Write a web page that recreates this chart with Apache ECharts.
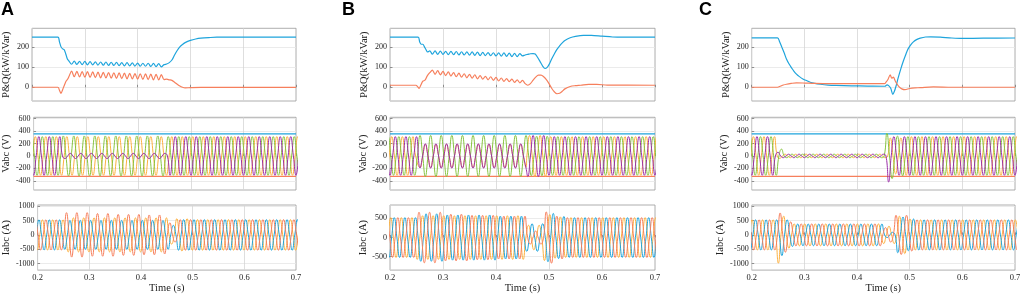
<!DOCTYPE html>
<html>
<head>
<meta charset="utf-8">
<script src="https://cdn.jsdelivr.net/npm/echarts@6/dist/echarts.min.js"></script>
<style>
  html, body { margin: 0; padding: 0; background: #fff; }
  #chart { width: 1024px; height: 295px; }
</style>
</head>
<body>
<div id="chart"></div>
<script>
// ---- data ----
const timeTicks = [0.2, 0.3, 0.4, 0.5, 0.6, 0.7];
const pqTicks = [0, 100, 200];
const vTicks = [-400, -200, 0, 200, 400, 600];
const iTicksAC = [-1000, -500, 0, 500, 1000];
const iTicksB = [-500, 0, 500];
const panelNames = ["A", "B", "C"];

// P and Q, [time, value]
const pA = [[0.2,248],[0.249,248],[0.252,225],[0.255,200],[0.258,190],[0.261,186],[0.264,165],[0.267,140],
  [0.27,130],[0.275,114],[0.28,129],[0.285,113],[0.29,128],[0.295,112],[0.3,128],[0.305,111],[0.31,127],[0.315,111],
  [0.32,126],[0.325,110],[0.33,125],[0.335,109],[0.34,125],[0.345,108],[0.35,124],[0.355,108],[0.36,123],[0.365,107],
  [0.37,122],[0.375,106],[0.38,122],[0.385,106],[0.39,121],[0.395,105],[0.4,120],[0.405,104],[0.41,119],[0.415,104],
  [0.42,119],[0.425,103],[0.43,118],[0.435,102],[0.44,117],[0.445,101],[0.45,112],
  [0.455,115],[0.46,122],[0.465,135],[0.47,160],[0.475,182],[0.48,200],[0.485,212],[0.49,221],[0.5,232],
  [0.51,239],[0.52,243],[0.535,246],[0.55,248],[0.7,248]];
const qA = [[0.2,0],[0.249,0],[0.252,-15],[0.255,-30],[0.258,-12],[0.262,15],[0.265,32],[0.268,42],[0.271,60],
  [0.275,80],[0.28,52],[0.285,79],[0.29,51],[0.295,78],[0.3,50],[0.305,77],[0.31,49],[0.315,76],[0.32,48],
  [0.325,75],[0.33,47],[0.335,74],[0.34,46],[0.345,73],[0.35,45],[0.355,72],[0.36,44],[0.365,71],[0.37,43],
  [0.375,70],[0.38,42],[0.385,69],[0.39,41],[0.395,68],[0.4,40],[0.405,67],[0.41,39],[0.415,66],[0.42,38],
  [0.425,65],[0.43,37],[0.435,64],[0.44,36],[0.445,63],[0.45,38],
  [0.455,40],[0.46,37],[0.465,34],[0.47,25],[0.475,15],[0.48,6],[0.485,0],[0.49,-3],[0.5,-2],[0.52,-1],[0.7,-1]];
const pB = [[0.2,248],[0.253,248],[0.256,225],[0.259,213],[0.262,213],[0.265,200],[0.268,186],[0.271,175],
  [0.275,180],[0.28,164],[0.285,180],[0.29,163],[0.295,179],[0.3,163],[0.305,178],[0.31,162],[0.315,178],[0.32,161],
  [0.325,177],[0.33,160],[0.335,176],[0.34,160],[0.345,175],[0.35,159],[0.355,175],[0.36,158],[0.365,174],[0.37,157],
  [0.375,173],[0.38,157],[0.385,172],[0.39,156],[0.395,171],[0.4,155],[0.405,170],[0.41,154],[0.415,170],[0.42,153],
  [0.425,169],[0.43,152],[0.435,168],[0.44,152],[0.445,167],[0.45,155],
  [0.455,160],[0.46,163],[0.465,166],[0.47,167],[0.474,165],[0.478,150],[0.483,128],[0.488,105],[0.4925,93],
  [0.497,100],[0.5,112],[0.505,140],[0.51,165],[0.515,188],[0.52,205],[0.525,220],[0.53,232],[0.54,245],
  [0.55,252],[0.565,257],[0.58,257],[0.6,253],[0.62,249],[0.64,248],[0.7,248]];
const qB = [[0.2,10],[0.249,10],[0.252,3],[0.255,-5],[0.258,10],[0.262,30],[0.266,35],[0.27,55],[0.275,72],
  [0.28,85],[0.285,64],[0.29,82],[0.295,61],[0.3,79],[0.305,58],[0.31,76],[0.315,55],[0.32,73],[0.325,52],
  [0.33,70],[0.335,50],[0.34,67],[0.345,47],[0.35,64],[0.355,45],[0.36,62],[0.365,42],[0.37,58],[0.375,40],
  [0.38,54],[0.385,37],[0.39,52],[0.395,34],[0.4,49],[0.405,31],[0.41,46],[0.415,29],[0.42,43],[0.425,28],
  [0.43,40],[0.435,24],[0.44,37],[0.445,22],[0.45,34],[0.455,18],
  [0.46,10],[0.465,18],[0.47,35],[0.475,50],[0.48,60],[0.485,60],[0.49,52],[0.495,38],[0.5,18],[0.505,-5],
  [0.51,-22],[0.515,-32],[0.52,-30],[0.525,-20],[0.53,-8],[0.54,4],[0.55,8],[0.56,10],[0.575,14],[0.59,14],
  [0.61,11],[0.7,10]];
const pC = [[0.2,245],[0.249,245],[0.253,225],[0.257,200],[0.262,168],[0.266,140],[0.271,115],[0.276,95],[0.28,80],
  [0.285,65],[0.29,54],[0.298,40],[0.305,32],[0.311,25],[0.32,19],[0.33,15],[0.345,11],[0.36,9],[0.39,7],[0.42,6],
  [0.453,5],[0.457,12],[0.46,8],[0.464,-5],[0.468,-35],[0.471,-20],[0.474,5],[0.478,45],[0.483,90],[0.488,130],
  [0.493,165],[0.497,190],[0.502,210],[0.507,225],[0.513,236],[0.52,243],[0.53,249],[0.54,250],[0.558,248],
  [0.58,244],[0.6,242],[0.64,243],[0.7,244]];
const qC = [[0.2,0],[0.249,0],[0.255,6],[0.26,11],[0.266,15],[0.275,19],[0.285,22],[0.3,21],[0.32,19],[0.35,18],
  [0.452,18],[0.455,25],[0.459,40],[0.463,62],[0.466,45],[0.469,50],[0.472,35],[0.475,20],[0.48,2],[0.485,-8],
  [0.491,-12],[0.5,-6],[0.51,-3],[0.52,-2],[0.545,2],[0.58,0],[0.7,0]];

// voltage limit lines
const vLimHigh = 355;
const vLimLow = -328;

// 50 Hz phase waveforms: [start time, peak amplitude, phase deg (kept if omitted)]
const vPurA = [[0.2,311,-90],[0.251,42],[0.456,311]];
const vYelA = [[0.2,311,30]];
const vGrnA = [[0.2,311,150],[0.251,322],[0.456,311]];
const vPurB = [[0.2,311,-90],[0.252,195,-30],[0.457,330,-90],[0.5,311]];
const vYelB = [[0.2,311,30],[0.252,185,-30],[0.457,330,30],[0.5,311]];
const vGrnB = [[0.2,311,150],[0.252,330],[0.457,318],[0.5,311]];
const vPurC = [[0.2,311,-90],[0.25,60],[0.256,28],[0.455,330],[0.458,420],[0.465,311]];
const vYelC = [[0.2,311,30],[0.25,40],[0.256,28],[0.455,290],[0.49,311]];
const vGrnC = [[0.2,311,150],[0.25,110],[0.257,28],[0.455,365],[0.468,320],[0.49,311]];

const iOrgA = [[0.2,520,162],[0.25,770],[0.3,740],[0.35,710],[0.4,690],[0.44,660],[0.455,420],[0.463,250],[0.47,530]];
const iBluA = [[0.2,520,42],[0.25,500],[0.455,330],[0.466,530]];
const iYelA = [[0.2,520,-78],[0.25,590],[0.455,320],[0.466,560],[0.49,530]];
const iOrgB = [[0.2,520,-175],[0.25,660],[0.3,610],[0.35,580],[0.4,560],[0.455,170],[0.49,670],[0.51,560],[0.53,520]];
const iBluB = [[0.2,520,-55],[0.25,620],[0.3,590],[0.4,560],[0.455,360],[0.49,630],[0.51,550],[0.53,520]];
const iYelB = [[0.2,520,65],[0.25,570],[0.455,320],[0.49,600],[0.51,540],[0.53,520]];
const iOrgC = [[0.2,520,-162],[0.25,760],[0.262,600],[0.272,450],[0.282,380],[0.45,250],[0.472,680],[0.495,560],[0.51,520]];
const iBluC = [[0.2,520,-42],[0.25,720],[0.265,520],[0.276,400],[0.286,375],[0.45,90],[0.472,620],[0.495,550],[0.51,520]];
const iYelC = [[0.2,520,78],[0.245,980],[0.256,650],[0.27,460],[0.28,380],[0.45,300],[0.472,650],[0.495,550],[0.51,520]];

// ---- colours / layout ----
const cBlue = "#1ea4dc", cOrange = "#f67f5c", cYellow = "#fbb040", cGreen = "#86c440", cPurple = "#9b2fa8";
const serif = "Liberation Serif";
const cols = [{ left: 30, width: 266 }, { left: 390, width: 265 }, { left: 751.7, width: 263.3 }];
const rows = [{ top: 28.3, height: 72.7 }, { top: 117.3, height: 72.7 }, { top: 205, height: 68.3 }];

// peaks and zero crossings of each half cycle, the library smooths between them
function wave(segs) {
  const pts = [];
  let ph = 0;
  for (let i = 0; i < segs.length; i++) {
    const amp = segs[i][1];
    if (segs[i][2] !== undefined) ph = segs[i][2];
    const start = i === 0 ? 0.19 : segs[i][0];
    const end = i + 1 < segs.length ? segs[i + 1][0] : 0.71;
    for (let k = Math.ceil((start * 18000 + ph) / 90); ; k++) {
      const t = (90 * k - ph) / 18000;
      if (t >= end) break;
      pts.push([t, amp * [0, 1, 0, -1][((k % 4) + 4) % 4]]);
    }
  }
  return pts;
}

const grids = [], xAxes = [], yAxes = [], series = [];

function addPanel(c, r, yMin, yMax, ticks, name) {
  const gi = grids.length;
  grids.push({ left: cols[c].left, width: cols[c].width, top: rows[r].top, height: rows[r].height,
    show: true, borderColor: "#9a9a9a", borderWidth: 0.8, backgroundColor: "transparent" });
  xAxes.push({
    gridIndex: gi, type: "value", min: 0.2, max: 0.7, interval: 0.1,
    axisLine: { show: false },
    axisTick: { show: true, inside: true, length: 2.5, lineStyle: { color: "#777", width: 0.8 } },
    splitLine: { show: true, lineStyle: { color: "#d6d6d6", width: 0.8 } },
    axisLabel: { show: r === 2, margin: 3, fontSize: 8.5, color: "#222", fontFamily: serif,
      formatter: v => timeTicks.find(t => Math.abs(t - v) < 1e-6).toFixed(1) },
    name: r === 2 ? "Time (s)" : "", nameLocation: "middle", nameGap: 8,
    nameTextStyle: { fontSize: 10.5, color: "#222", fontFamily: serif, verticalAlign: "top" }
  });
  yAxes.push({
    gridIndex: gi, type: "value", min: yMin, max: yMax,
    axisLine: { show: false },
    axisTick: { show: true, inside: true, length: 2.5, customValues: ticks, lineStyle: { color: "#777", width: 0.8 } },
    splitLine: { show: true, lineStyle: { color: "#e6e6e6", width: 0.8 } },
    axisLabel: { margin: 3, fontSize: 8, color: "#222", fontFamily: serif, customValues: ticks,
      formatter: v => String(Math.round(v)) },
    name: name, nameLocation: "middle", nameGap: 20, nameRotate: 90,
    nameTextStyle: { fontSize: 10.5, color: "#222", fontFamily: serif }
  });
  return gi;
}

function line(gi, data, color, smooth, width) {
  series.push({ type: "line", xAxisIndex: gi, yAxisIndex: gi, data: data, symbol: "none",
    smooth: smooth, silent: true, lineStyle: { color: color, width: width || 1 } });
}

const pq = [[pA, qA], [pB, qB], [pC, qC]];
const volts = [[vYelA, vGrnA, vPurA], [vYelB, vGrnB, vPurB], [vYelC, vGrnC, vPurC]];
const amps = [[iYelA, iBluA, iOrgA], [iYelB, iBluB, iOrgB], [iYelC, iBluC, iOrgC]];

for (let c = 0; c < 3; c++) {
  let g = addPanel(c, 0, -68, 292, pqTicks, "P&Q(kW/kVar)");
  line(g, pq[c][0], cBlue, 0.3, 1.2);
  line(g, pq[c][1], cOrange, 0.3, 1.2);

  g = addPanel(c, 1, -548, 622, vTicks, "Vabc (V)");
  line(g, [[0.2, vLimHigh], [0.7, vLimHigh]], cBlue, false, 1.2);
  line(g, [[0.2, vLimLow], [0.7, vLimLow]], cOrange, false, 1.2);
  line(g, wave(volts[c][0]), cYellow, 0.5);
  line(g, wave(volts[c][1]), cGreen, 0.5);
  line(g, wave(volts[c][2]), cPurple, 0.5);

  if (c === 1) g = addPanel(c, 2, -850, 850, iTicksB, "Iabc (A)");
  else g = addPanel(c, 2, -1220, 1035, iTicksAC, "Iabc (A)");
  line(g, wave(amps[c][0]), cYellow, 0.5);
  line(g, wave(amps[c][1]), cBlue, 0.5);
  line(g, wave(amps[c][2]), cOrange, 0.5);
}

const letters = [1, 342, 699].map((x, i) => ({
  type: "text", left: x, top: 1,
  style: { text: panelNames[i], font: "bold 18px 'Liberation Sans'", fill: "#000" }
}));

const chart = echarts.init(document.getElementById("chart"), null, { renderer: "canvas" });
chart.setOption({
  animation: false,
  grid: grids,
  xAxis: xAxes,
  yAxis: yAxes,
  series: series,
  graphic: letters
});
</script>
</body>
</html>
